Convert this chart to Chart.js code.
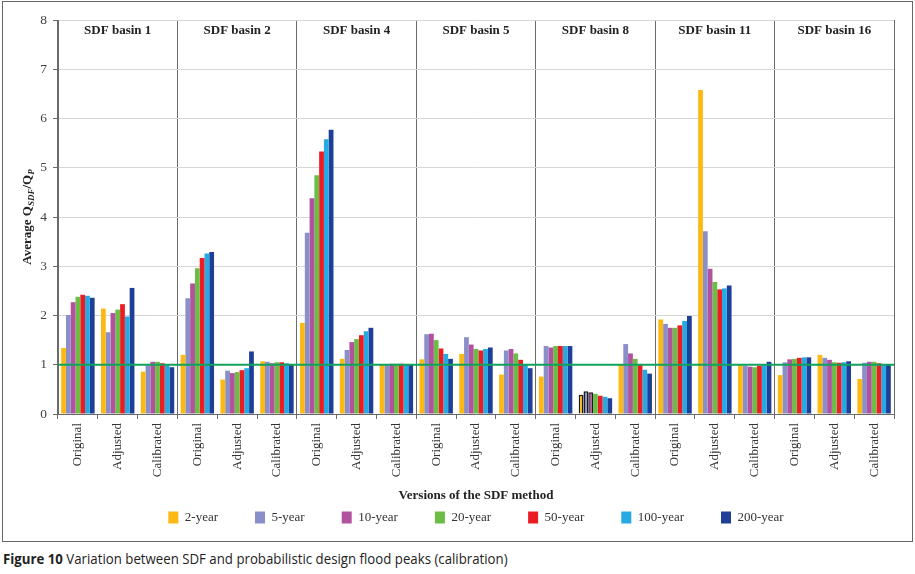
<!DOCTYPE html>
<html>
<head>
<meta charset="utf-8">
<script src="https://cdn.jsdelivr.net/npm/chart.js@4/dist/chart.umd.min.js"></script>
<style>
  html, body { margin: 0; padding: 0; background: #fff; }
  body { width: 915px; height: 574px; position: relative; overflow: hidden; }
  #wrap { position: absolute; left: 0; top: 0; width: 915px; height: 542px; }
  #frame { position: absolute; left: 2px; top: 1px; width: 909px; height: 539px; border: 1px solid #666; pointer-events: none; }
  #caption { position: absolute; left: 3px; top: 549px; font-family: "Open Sans", sans-serif; font-size: 14px; color: #222; white-space: nowrap; transform-origin: left top; }
</style>
</head>
<body>
<div id="wrap"><canvas id="chart"></canvas></div>
<div id="frame"></div>
<div id="caption"><b>Figure 10</b> Variation between SDF and probabilistic design flood peaks (calibration)</div>
<script>
    // basins and versions
    let basins = ["SDF basin 1", "SDF basin 2", "SDF basin 4", "SDF basin 5", "SDF basin 8", "SDF basin 11", "SDF basin 16"];
    let versions = ["Original", "Adjusted", "Calibrated"];
    let returnPeriods = ["2-year", "5-year", "10-year", "20-year", "50-year", "100-year", "200-year"];
    let colors = ["#fdb913", "#8b8fc9", "#b2519e", "#6cbd45", "#ec1c24", "#27aae1", "#1f3e97"];
    let yTicks = [0, 1, 2, 3, 4, 5, 6, 7, 8];
    let refLine = 1;
    let xTitle = "Versions of the SDF method";

    // one array per return period, order: basin x version
    let y2 = [1.34, 2.14, 0.86, 1.20, 0.70, 1.07, 1.85, 1.12, 1.00, 1.11, 1.22, 0.80, 0.76, 0.39, 1.00, 1.92, 6.58, 1.00, 0.79, 1.20, 0.71];
    let y5 = [2.01, 1.66, 0.99, 2.35, 0.88, 1.06, 3.68, 1.30, 1.01, 1.62, 1.56, 1.29, 1.38, 0.46, 1.42, 1.83, 3.71, 0.98, 1.05, 1.14, 1.04];
    let y10 = [2.27, 2.05, 1.06, 2.65, 0.83, 1.03, 4.38, 1.46, 1.02, 1.63, 1.41, 1.32, 1.35, 0.44, 1.23, 1.75, 2.95, 0.96, 1.11, 1.10, 1.06];
    let y20 = [2.38, 2.12, 1.06, 2.96, 0.85, 1.05, 4.85, 1.52, 1.02, 1.50, 1.32, 1.23, 1.38, 0.41, 1.12, 1.75, 2.68, 0.95, 1.12, 1.05, 1.06];
    let y50 = [2.42, 2.23, 1.03, 3.17, 0.89, 1.05, 5.33, 1.60, 1.02, 1.33, 1.29, 1.10, 1.38, 0.37, 1.00, 1.80, 2.53, 0.98, 1.14, 1.04, 1.03];
    let y100 = [2.40, 1.98, 0.99, 3.26, 0.93, 1.03, 5.58, 1.68, 1.00, 1.22, 1.32, 1.00, 1.38, 0.35, 0.90, 1.89, 2.55, 1.01, 1.15, 1.05, 1.00];
    let y200 = [2.36, 2.56, 0.95, 3.29, 1.27, 1.00, 5.77, 1.75, 1.00, 1.12, 1.35, 0.93, 1.38, 0.32, 0.82, 1.99, 2.61, 1.06, 1.15, 1.07, 1.00];
    let series = [y2, y5, y10, y20, y50, y100, y200];

    // bars outlined in black in the original (basin 8, adjusted)
    let outlinedGroup = 13;
    let outlinedSeries = 3;

    let labels = [];
    basins.forEach(() => versions.forEach(v => labels.push(v)));

    const serif = "'Liberation Serif', 'DejaVu Serif', serif";

    const basinTitles = {
        id: "basinTitles",
        afterDraw(chart) {
            const ctx = chart.ctx;
            const x = chart.scales.x;
            const area = chart.chartArea;
            ctx.save();
            ctx.font = "bold 13px " + serif;
            ctx.fillStyle = "#222";
            ctx.textAlign = "center";
            ctx.textBaseline = "middle";
            basins.forEach((b, i) => {
                ctx.fillText(b, x.getPixelForValue(i * 3 + 1), area.top + 11);
            });
            // x axis title, below the rotated labels
            ctx.fillText(xTitle, (area.left + area.right) / 2, area.bottom + 82);
            ctx.restore();
        }
    };

    // legend padding also spaces items apart; pull the legend up a little
    const legendLift = {
        id: "legendLift",
        afterLayout(chart) {
            chart.legend.top -= 10;
        }
    };

    const refLinePlugin = {
        id: "refLine",
        afterDatasetsDraw(chart) {
            const ctx = chart.ctx;
            const y = chart.scales.y.getPixelForValue(refLine);
            ctx.save();
            ctx.strokeStyle = "#10a25c";
            ctx.lineWidth = 2;
            ctx.beginPath();
            ctx.moveTo(chart.chartArea.left, y);
            ctx.lineTo(chart.chartArea.right, y);
            ctx.stroke();
            ctx.restore();
        }
    };

    const yTitle = {
        id: "yTitle",
        afterDraw(chart) {
            const ctx = chart.ctx;
            const area = chart.chartArea;
            const parts = [
                ["Average Q", "bold 13px " + serif, 0],
                ["SDF", "bold italic 9px " + serif, 3],
                ["/Q", "bold 13px " + serif, 0],
                ["P", "bold italic 9px " + serif, 3]
            ];
            ctx.save();
            let total = 0;
            parts.forEach(p => { ctx.font = p[1]; total += ctx.measureText(p[0]).width; });
            ctx.translate(26, (area.top + area.bottom) / 2);
            ctx.rotate(-Math.PI / 2);
            ctx.fillStyle = "#222";
            ctx.textBaseline = "alphabetic";
            let pos = -total / 2;
            parts.forEach(p => {
                ctx.font = p[1];
                ctx.fillText(p[0], pos, 5 + p[2]);
                pos += ctx.measureText(p[0]).width;
            });
            ctx.restore();
        }
    };

    const ctx = document.getElementById("chart").getContext("2d");
    const myChart = new Chart(ctx, {
        type: "bar",
        data: {
            labels: labels,
            datasets: series.map((d, i) => ({
                label: returnPeriods[i],
                data: d,
                backgroundColor: colors[i],
                borderColor: "#1a1a1a",
                borderWidth: c => (c.dataIndex === outlinedGroup && i < outlinedSeries) ? 1.5 : 0,
                categoryPercentage: 0.84,
                barPercentage: 1.0
            }))
        },
        options: {
            responsive: true,
            maintainAspectRatio: false,
            animation: false,
            layout: { padding: { top: 20, right: 21, left: 0, bottom: 0 } },
            plugins: {
                legend: {
                    position: "bottom",
                    fullSize: false,
                    maxHeight: 58,
                    labels: {
                        font: { family: serif, size: 13 },
                        color: "#333",
                        boxWidth: 10,
                        boxHeight: 12,
                        padding: 37
                    }
                },
                tooltip: { enabled: false }
            },
            scales: {
                x: {
                    afterFit: s => { s.height = 70; },
                    grid: {
                        color: c => (c.index === undefined || c.index % 3 === 0) ? "#6a6a6a" : "rgba(0,0,0,0)",
                        tickColor: "#6a6a6a",
                        tickLength: 5,
                        lineWidth: 1
                    },
                    border: { color: "#6a6a6a" },
                    ticks: {
                        font: { family: serif, size: 13 },
                        color: "#333",
                        minRotation: 90,
                        maxRotation: 90,
                        autoSkip: false,
                        padding: 4
                    }
                },
                y: {
                    min: 0,
                    max: 8,
                    afterBuildTicks: s => { s.ticks = yTicks.map(v => ({ value: v })); },
                    afterFit: s => { s.width = 58; },
                    grid: { color: "#d6d6d6", tickColor: "#6a6a6a", tickLength: 5 },
                    border: { color: "#6a6a6a" },
                    ticks: {
                        font: { family: serif, size: 13.5 },
                        color: "#444",
                        padding: 6
                    }
                }
            }
        },
        plugins: [basinTitles, legendLift, refLinePlugin, yTitle]
    });

    // squeeze the caption to the width used in the figure
    let cap = document.getElementById("caption");
    cap.style.transform = "scaleX(" + (505 / cap.offsetWidth) + ")";
</script>
</body>
</html>
